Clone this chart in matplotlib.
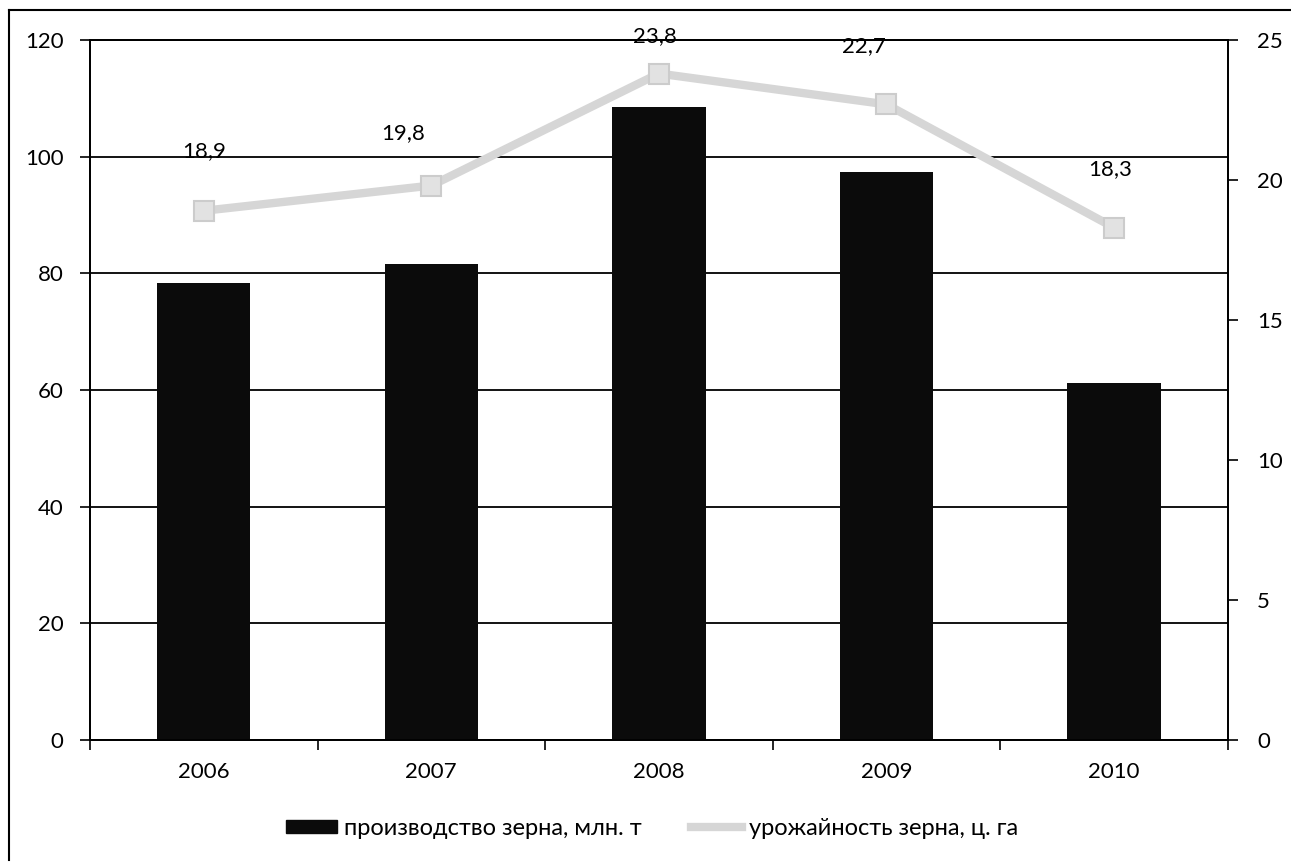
import matplotlib.pyplot as plt
import matplotlib.patches as mpatches
from matplotlib.lines import Line2D

plt.rcParams['font.family'] = ['Lato', 'DejaVu Sans']

years = ['2006', '2007', '2008', '2009', '2010']
production = [78.3, 81.6, 108.5, 97.4, 61.2]
yield_vals = [18.9, 19.8, 23.8, 22.7, 18.3]
yield_labels = ['18,9', '19,8', '23,8', '22,7', '18,3']
# label shifts in points, as placed by hand in the original
label_shift = [(0, 43), (-20, 38), (-3, 27), (-16, 42), (-3, 42)]

fig = plt.figure(figsize=(12.91, 8.63), dpi=100)
ax = fig.add_axes([0.0697, 0.1425, 0.8813, 0.8112])

x = list(range(len(years)))
ax.bar(x, production, width=0.41, color='#0b0b0b', zorder=3)
ax.set_xlim(-0.5, 4.5)
ax.set_ylim(0, 120)
ax.set_yticks(range(0, 121, 20))
ax.set_xticks(x)
ax.set_xticklabels(years)
ax.set_xticks([i + 0.5 for i in range(-1, 5)], minor=True)
ax.tick_params(axis='x', which='major', length=0, pad=16, labelsize=16)
ax.tick_params(axis='x', which='minor', length=7, width=1.2, direction='out')
ax.tick_params(axis='y', length=7, width=1.2, direction='out', labelsize=16, pad=12)
ax.grid(axis='y', color='black', linewidth=1.3, zorder=1)
for s in ax.spines.values():
    s.set_linewidth(1.3)
    s.set_color('black')

ax2 = ax.twinx()
ax2.set_ylim(0, 25)
ax2.set_yticks(range(0, 26, 5))
ax2.tick_params(axis='y', length=7, width=1.2, direction='out', labelsize=16, pad=14)
ax2.plot(x, yield_vals, color='#d6d6d6', linewidth=6, marker='s', markersize=15,
         markerfacecolor='#e2e2e2', markeredgecolor='#cccccc', markeredgewidth=1.5, zorder=4)
for xi, v, lab, sh in zip(x, yield_vals, yield_labels, label_shift):
    ax2.annotate(lab, (xi, v), xytext=sh, textcoords='offset points',
                 ha='center', va='center', fontsize=16)
for s in ax2.spines.values():
    s.set_linewidth(1.3)

handles = [mpatches.Patch(color='#0b0b0b', label='производство зерна, млн. т'),
           Line2D([0], [0], color='#d6d6d6', linewidth=6, label='урожайность зерна, ц. га')]
fig.legend(handles=handles, loc='center', bbox_to_anchor=(0.505, 0.04), ncol=2,
           frameon=False, fontsize=17, handlelength=2.15, handleheight=0.5,
           handletextpad=0.3, columnspacing=2.1)

# chart area border: only left and top edges are visible in the scan
fig.add_artist(Line2D([0.007, 0.007], [0.003, 0.988], transform=fig.transFigure,
                      color='black', linewidth=1.5))
fig.add_artist(Line2D([0.007, 1.0], [0.988, 0.988], transform=fig.transFigure,
                      color='black', linewidth=1.5))

fig.savefig('out.png', dpi=100)
